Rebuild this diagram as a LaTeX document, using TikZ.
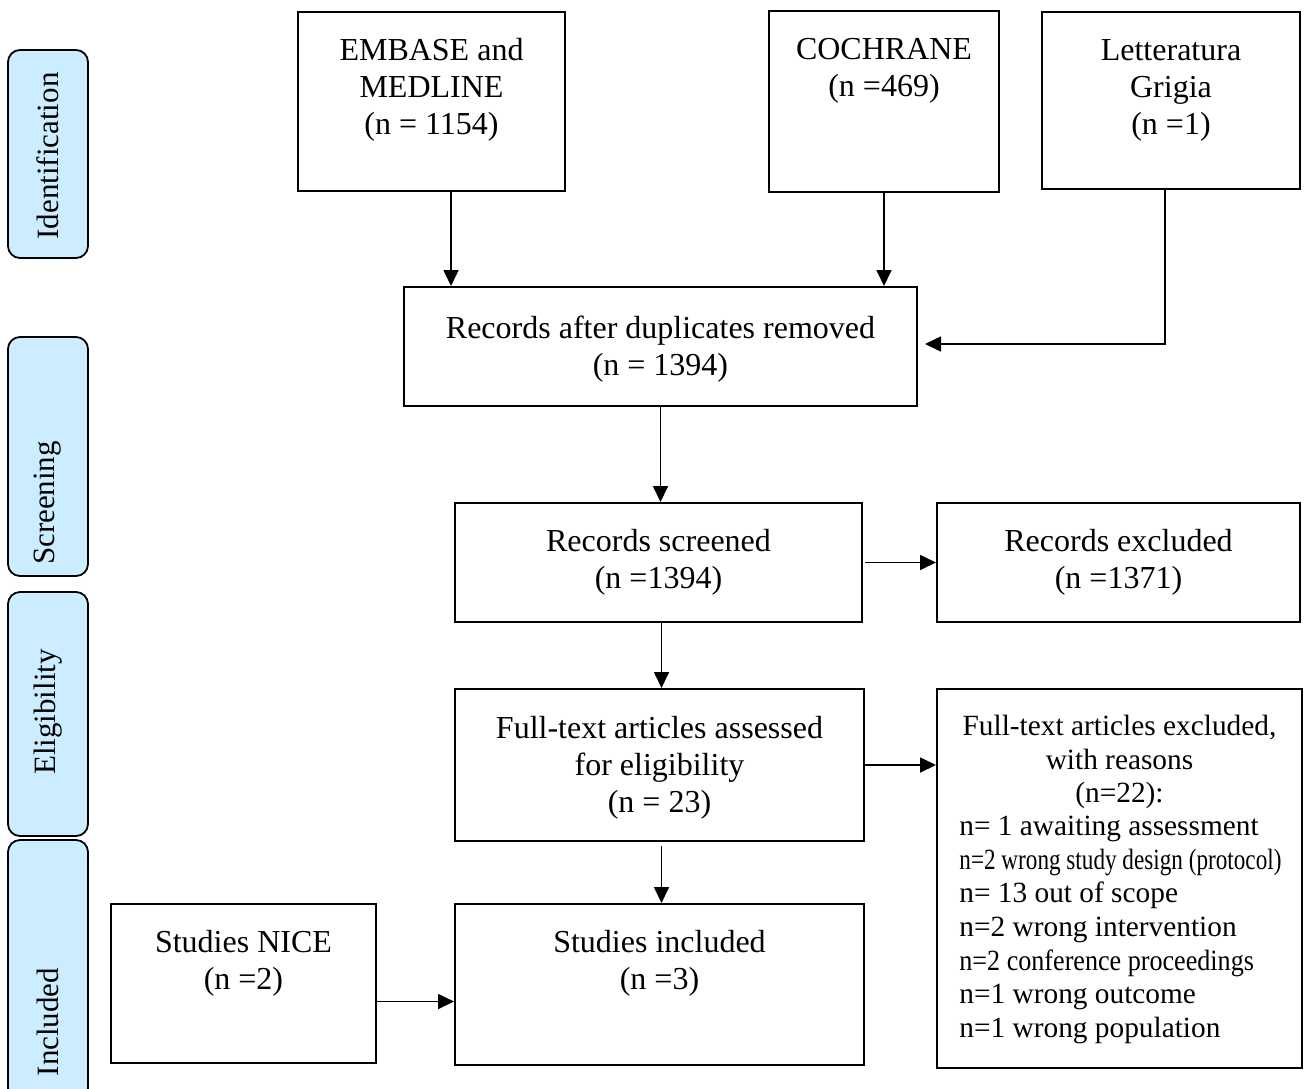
\documentclass[tikz,border=0pt]{standalone}
\usepackage{fontspec}
\setmainfont{Liberation Serif}
\usetikzlibrary{arrows.meta}

\definecolor{stagebg}{RGB}{204,236,255}

\tikzset{
  box/.style={draw, line width=1pt, inner sep=0pt},
  txt/.style={align=center, font=\fontsize{16}{18.5}\selectfont},
  smalltxt/.style={font=\fontsize{14.67}{16.85}\selectfont},
  stage/.style={draw, line width=0.9pt, fill=stagebg, rounded corners=6pt,
    inner sep=0pt, minimum width=40pt},
  stagetxt/.style={rotate=90, font=\fontsize{15.5}{18}\selectfont},
  arr/.style={-{Triangle[length=8pt,width=7.5pt]}, line width=0.85pt},
}

\begin{document}
\begin{tikzpicture}[x=0.5pt, y=-0.5pt]
        \useasboundingbox (0,0) rectangle (1306,1088);

        % Stage labels on the left
        \begin{scope}
        \clip (0,0) rectangle (1306,1088);
        \node[stage, minimum height=104pt] (ident) at (48,154) {};
        \node[stage, minimum height=119.5pt] (screen) at (48,456.5) {};
        \node[stage, minimum height=122pt] (elig) at (48,714) {};
        \node[stage, minimum height=130pt] (inclst) at (48,970) {};
        \end{scope}
        \node[stagetxt] (identtxt) at (48,156) {Identification};
        \node[stagetxt] (screentxt) at (48,503) {Screening};
        \node[stagetxt] (eligtxt) at (48,712) {Eligibility};
        \node[stagetxt] (incltxt) at (48,1022) {Included};

        % Sources
        \node[box, minimum width=133.5pt, minimum height=89.5pt] (embase) at (431.5,101.5) {};
        \node[txt] (embasetxt) at (431.5,90) {EMBASE and\\MEDLINE\\(n = 1154)};
        \node[box, minimum width=115pt, minimum height=90.5pt] (cochrane) at (884,101.5) {};
        \node[txt] (cochranetxt) at (884,71) {COCHRANE\\(n =469)};
        \node[box, minimum width=129pt, minimum height=88.5pt] (grey) at (1171,100.5) {};
        \node[txt] (greytxt) at (1171,90) {Letteratura\\Grigia\\(n =1)};

        % Main column
        \node[box, minimum width=256.5pt, minimum height=59.5pt] (dedup) at (660.5,346.5) {};
        \node[txt] (deduptxt) at (660.5,349) {Records after duplicates removed\\(n = 1394)};
        \node[box, minimum width=203.5pt, minimum height=59.5pt] (screened) at (658.5,562.5) {};
        \node[txt] (screenedtxt) at (658.5,562.5) {Records screened\\(n =1394)};
        \node[box, minimum width=204.5pt, minimum height=76pt] (fulltext) at (659.5,765) {};
        \node[txt] (fulltexttxt) at (659.5,767.5) {Full-text articles assessed\\for eligibility\\(n = 23)};
        \node[box, minimum width=204.5pt, minimum height=80.5pt] (incl) at (659.5,984.5) {};
        \node[txt] (incltxt2) at (659.5,963) {Studies included\\(n =3)};
        \node[box, minimum width=132.5pt, minimum height=79.5pt] (nice) at (243.5,983.5) {};
        \node[txt] (nicetxt) at (243.5,963) {Studies NICE\\(n =2)};

        % Exclusions
        \node[box, minimum width=181.5pt, minimum height=59.5pt] (excl) at (1118.5,562.5) {};
        \node[txt] (excltxt) at (1118.5,562.5) {Records excluded\\(n =1371)};
        \node[box, minimum width=182.5pt, minimum height=189.5pt] (ftexcl) at (1119.5,878.5) {};
        \node[txt, smalltxt] (ftexclhead) at (1119.5,762) {Full-text articles excluded,\\with reasons\\(n=22):};
        \node[smalltxt, align=left, anchor=west, inner sep=0pt] (ftexcllist) at (959,930) {%
          n= 1 awaiting assessment\\
          \scalebox{0.79}[1]{n=2 wrong study design (protocol)}\\
          n= 13 out of scope\\
          n=2 wrong intervention\\
          \scalebox{0.89}[1]{n=2 conference proceedings}\\
          n=1 wrong outcome\\
          n=1 wrong population};

        % Arrows
        \draw[arr] ([xshift=9.75pt]embase.south) -- ([xshift=9.75pt]embase.south |- dedup.north);
        \draw[arr] (cochrane.south) -- (cochrane.south |- dedup.north);
        \draw[arr] ([xshift=-3pt]grey.south) |- ([xshift=3.5pt,yshift=1.25pt]dedup.east);
        \draw[arr] (dedup.south) -- (dedup.south |- screened.north);
        \draw[arr] ([xshift=1pt]screened.east) -- (excl.west);
        \draw[arr] ([xshift=1.5pt]screened.south) -- ([xshift=1.5pt]screened.south |- fulltext.north);
        \draw[arr] (fulltext.east) -- (fulltext.east -| ftexcl.west);
        \draw[arr] ([xshift=1pt,yshift=-2pt]fulltext.south) -- ([xshift=1pt]incl.north);
        \draw[arr] ([yshift=-9pt]nice.east) -- ([yshift=-9pt]nice.east -| incl.west);
    \end{tikzpicture}
\end{document}
